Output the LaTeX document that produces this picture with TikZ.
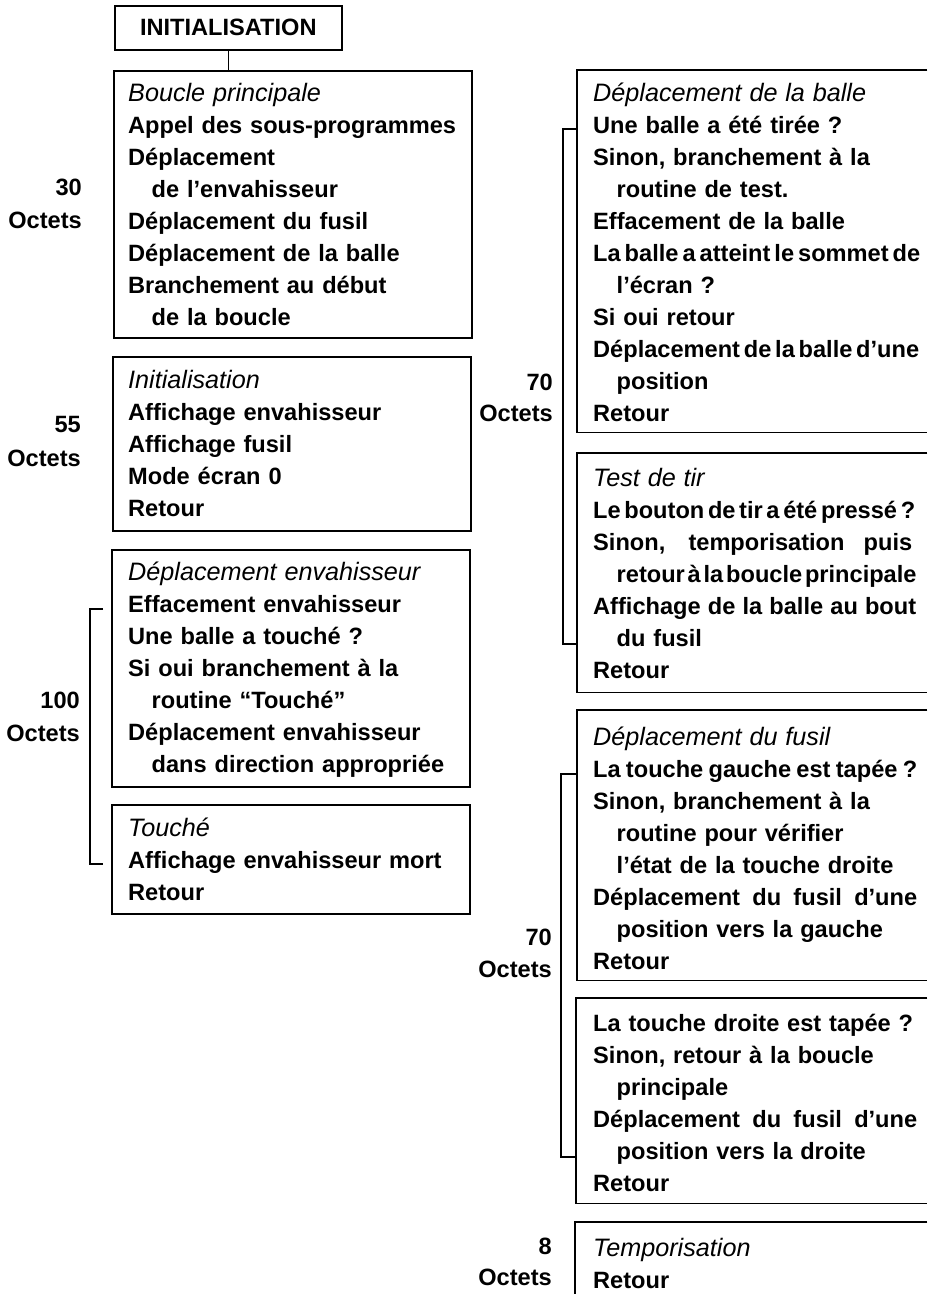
\documentclass[tikz,border=0pt]{standalone}
\usepackage{fontspec}
\setmainfont{Liberation Sans}
\newcommand\hd[1]{{\mdseries\itshape\fontsize{25.2}{32}\selectfont #1}}
\newcommand\ind{\hspace*{23.5pt}}
\newcommand\jl[2]{\leavevmode\hbox to #1{\spaceskip=0.12em plus 1fil\relax #2}}
\tikzset{
  frame/.style={draw, line width=1.6pt, anchor=north west, inner sep=0pt},
  openframe/.style={anchor=north west, inner sep=0pt},
  txt/.style={anchor=north west, inner sep=0pt, align=left, text width=345pt,
    font=\fontsize{23.6}{32}\selectfont\bfseries},
  lbl/.style={anchor=base east, inner sep=0pt, font=\fontsize{23.6}{32}\selectfont\bfseries},
  brk/.style={line width=1.4pt},
  side/.style={line width=1.6pt},
}
\begin{document}
\begin{tikzpicture}[x=1pt,y=-1pt]
\useasboundingbox (0,0) rectangle (927,1294);

% title
\node[frame, minimum width=227pt, minimum height=44pt,
  font=\fontsize{23.6}{32}\selectfont\bfseries] (title) at (114,5) {INITIALISATION};

% left column boxes
\node[frame, minimum width=358pt, minimum height=267pt] (bp) at (113,70) {};
\node[txt] (bpt) at (128,78.6) {\strut\hd{Boucle principale}\\
Appel des sous-programmes\\
Déplacement\\
\ind de l’envahisseur\\
Déplacement du fusil\\
Déplacement de la balle\\
Branchement au début\\
\ind de la boucle};

\node[frame, minimum width=358pt, minimum height=174pt] (ini) at (112,356) {};
\node[txt] (init) at (128,365.6) {\strut\hd{Initialisation}\\
Affichage envahisseur\\
Affichage fusil\\
Mode écran 0\\
Retour};

\node[frame, minimum width=358pt, minimum height=237pt] (denv) at (111,549) {};
\node[txt] (denvt) at (128,557.6) {\strut\hd{Déplacement envahisseur}\\
Effacement envahisseur\\
Une balle a touché ?\\
Si oui branchement à la\\
\ind routine “Touché”\\
Déplacement envahisseur\\
\ind dans direction appropriée};

\node[frame, minimum width=358pt, minimum height=109pt] (tch) at (111,804) {};
\node[txt] (tcht) at (128,813.6) {\strut\hd{Touché}\\
Affichage envahisseur mort\\
Retour};

% connector
\draw[side] (title.south) -- (title.south |- bp.north);

% right column boxes (open on the right)
\node[openframe, minimum width=350pt, minimum height=362pt] (dbal) at (577,70) {};
\draw[side] (dbal.north east) -- (dbal.north west) -- (dbal.south west) -- (dbal.south east);
\node[txt] (dbalt) at (593,78.6) {\strut\hd{Déplacement de la balle}\\
Une balle a été tirée ?\\
Sinon, branchement à la\\
\ind routine de test.\\
Effacement de la balle\\
\jl{327pt}{La balle a atteint le sommet de}\\
\ind l’écran ?\\
Si oui retour\\
\jl{326pt}{Déplacement de la balle d’une}\\
\ind position\\
Retour};

\node[openframe, minimum width=350pt, minimum height=239pt] (tir) at (577,453) {};
\draw[side] (tir.north east) -- (tir.north west) -- (tir.south west) -- (tir.south east);
\node[txt] (tirt) at (593,463.6) {\strut\hd{Test de tir}\\
\jl{322pt}{Le bouton de tir a été pressé ?}\\
\jl{319pt}{Sinon, temporisation puis}\\
\ind\jl{298pt}{retour à la boucle principale}\\
\jl{323pt}{Affichage de la balle au bout}\\
\ind du fusil\\
Retour};

\node[openframe, minimum width=350pt, minimum height=270pt] (dfus) at (577,710) {};
\draw[side] (dfus.north east) -- (dfus.north west) -- (dfus.south west) -- (dfus.south east);
\node[txt] (dfust) at (593,722.6) {\strut\hd{Déplacement du fusil}\\
\jl{324pt}{La touche gauche est tapée ?}\\
Sinon, branchement à la\\
\ind routine pour vérifier\\
\ind l’état de la touche droite\\
\jl{324pt}{Déplacement du fusil d’une}\\
\ind position vers la gauche\\
Retour};

\node[openframe, minimum width=351pt, minimum height=205pt] (tdr) at (576,998) {};
\draw[side] (tdr.north east) -- (tdr.north west) -- (tdr.south west) -- (tdr.south east);
\node[txt] (tdrt) at (593,1008.6) {\strut La touche droite est tapée ?\\
Sinon, retour à la boucle\\
\ind principale\\
\jl{324pt}{Déplacement du fusil d’une}\\
\ind position vers la droite\\
Retour};

\node[openframe, minimum width=352pt, minimum height=72pt] (temp) at (575,1222) {};
\draw[side] (temp.north east) -- (temp.north west) -- (temp.south west);
\node[txt] (tempt) at (593,1233.6) {\strut\hd{Temporisation}\\
Retour};

% brackets
\coordinate (lbT) at (103,609);
\coordinate (lbB) at (103,864);
\draw[brk] (lbT) -- ++(-13,0) |- (lbB);
\coordinate (rbT) at (577,129);
\coordinate (rbB) at (577,644);
\draw[brk] (rbT) -- ++(-14,0) |- (rbB);
\coordinate (rcT) at (577,774);
\coordinate (rcB) at (577,1157);
\draw[brk] (rcT) -- ++(-16,0) |- (rcB);

% size labels
\node[lbl] (a1) at (82,195) {30};
\node[lbl] (a2) at (82,228) {Octets};
\node[lbl] (b1) at (81,432) {55};
\node[lbl] (b2) at (81,466) {Octets};
\node[lbl] (c1) at (80,708) {100};
\node[lbl] (c2) at (80,741) {Octets};
\node[lbl] (d1) at (553,390) {70};
\node[lbl] (d2) at (553,421) {Octets};
\node[lbl] (e1) at (552,945) {70};
\node[lbl] (e2) at (552,977) {Octets};
\node[lbl] (f1) at (552,1254) {8};
\node[lbl] (f2) at (552,1285) {Octets};
\end{tikzpicture}
\end{document}
